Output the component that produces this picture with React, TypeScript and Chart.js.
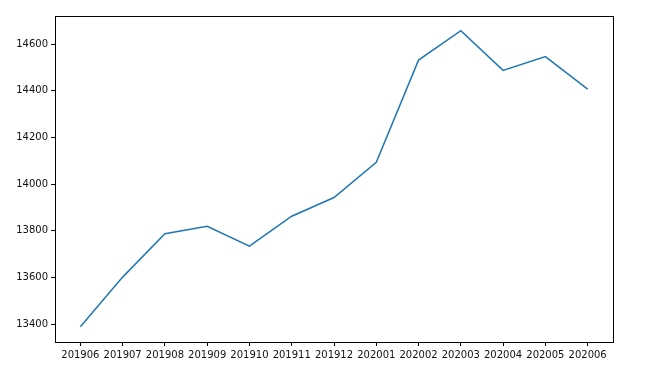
import React, { useEffect, useRef } from "react";
import { Chart, registerables } from "chart.js";

Chart.register(...registerables);

const months = ["201906", "201907", "201908", "201909", "201910", "201911", "201912", "202001", "202002", "202003", "202004", "202005", "202006"];
const values = [13388, 13601, 13787, 13819, 13734, 13862, 13942, 14093, 14531, 14657, 14487, 14546, 14407];
const yTicks = [13400, 13600, 13800, 14000, 14200, 14400, 14600];

const frame = {
  id: "frame",
  afterDraw(chart: any) {
    const { ctx, chartArea: a } = chart;
    ctx.save();
    ctx.strokeStyle = "#000";
    ctx.lineWidth = 1;
    ctx.strokeRect(Math.round(a.left) + 0.5, Math.round(a.top) + 0.5, Math.round(a.right - a.left), Math.round(a.bottom - a.top));
    ctx.restore();
  },
};

export default function App() {
  const ref = useRef<HTMLCanvasElement>(null);
  useEffect(() => {
    const font = { family: "DejaVu Sans", size: 10 };
    const chart = new Chart(ref.current!, {
      type: "line",
      data: {
        datasets: [
          {
            data: values.map((v, i) => ({ x: i, y: v })),
            borderColor: "#1f77b4",
            borderWidth: 1.5,
            pointRadius: 0,
            fill: false,
            tension: 0,
          },
        ],
      },
      options: {
        animation: false,
        responsive: false,
        maintainAspectRatio: false,
        layout: { padding: { left: 0, top: 16, right: 52, bottom: 0 } },
        plugins: { legend: { display: false }, tooltip: { enabled: false } },
        scales: {
          x: {
            type: "linear",
            min: -0.6,
            max: 12.6,
            afterBuildTicks: (s: any) => {
              s.ticks = months.map((_, i) => ({ value: i }));
            },
            afterFit: (s: any) => {
              s.height = 28;
            },
            ticks: {
              autoSkip: false,
              maxRotation: 0,
              padding: 3,
              color: "#111",
              font,
              callback: (v: any) => months[v as number] ?? "",
            },
            grid: { display: true, drawOnChartArea: false, drawTicks: true, tickLength: 4, tickColor: "#000" },
            border: { display: true, color: "#000" },
          },
          y: {
            type: "linear",
            min: 13323,
            max: 14720,
            afterBuildTicks: (s: any) => {
              s.ticks = yTicks.map((v) => ({ value: v }));
            },
            afterFit: (s: any) => {
              s.width = 55;
            },
            ticks: {
              padding: 3,
              color: "#111",
              font,
              callback: (v: any) => String(v),
            },
            grid: { display: true, drawOnChartArea: false, drawTicks: true, tickLength: 4, tickColor: "#000" },
            border: { display: true, color: "#000" },
          },
        },
      },
      plugins: [frame],
    });
    return () => chart.destroy();
  }, []);
  return (
    <div style={{ position: "fixed", left: 0, top: 0, width: 665, height: 370, background: "#fff" }}>
      <canvas ref={ref} width={665} height={370} style={{ width: 665, height: 370 }} />
    </div>
  );
}
